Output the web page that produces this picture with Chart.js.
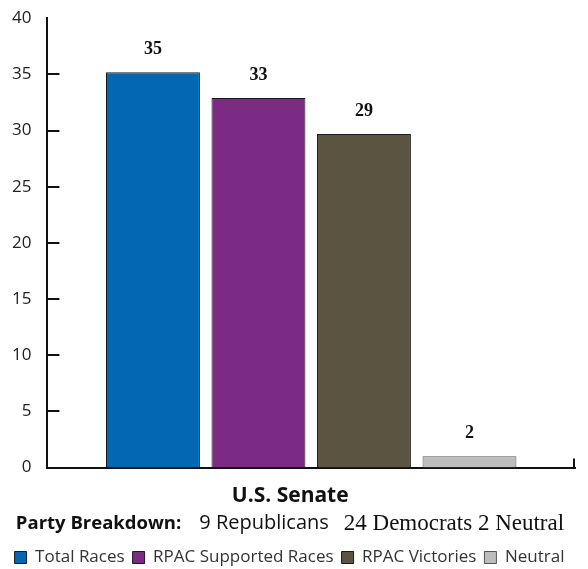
<!DOCTYPE html>
<html>
<head>
<meta charset="utf-8">
<script src="https://cdn.jsdelivr.net/npm/chart.js@4/dist/chart.umd.min.js"></script>
<style>
    html, body { margin: 0; padding: 0; background: #fff; }
    .wrap { width: 588px; height: 569px; }
</style>
</head>
<body>
<div class="wrap"><canvas id="senateChart" width="588" height="569"></canvas></div>
<script>
    const categories = ['U.S. Senate'];
    const seriesNames = ['Total Races', 'RPAC Supported Races', 'RPAC Victories', 'Neutral'];
    const seriesValues = [35.2, 32.9, 29.7, 1.0];
    const seriesLabels = ['35', '33', '29', '2'];
    const seriesColors = ['#0367B4', '#7B2B83', '#5A5441', '#BDBDBD'];
    const yTicks = [0, 5, 10, 15, 20, 25, 30, 35, 40];
    const breakdown = [
        { text: 'Party Breakdown:', font: 'bold 18.5px "Open Sans", sans-serif', gap: 18 },
        { text: '9 Republicans', font: '20px "Open Sans", sans-serif', gap: 15 },
        { text: '24 Democrats 2 Neutral', font: '23px "Liberation Serif", serif', gap: 0 }
    ];

    const sans = '"Open Sans", sans-serif';

    // value labels above bars, inward tick marks, breakdown line
    const extras = {
        id: 'extras',
        afterDatasetsDraw(chart) {
            const ctx = chart.ctx;
            ctx.save();
            ctx.font = 'bold 18px "Liberation Serif", serif';
            ctx.fillStyle = '#111';
            ctx.textAlign = 'center';
            ctx.textBaseline = 'middle';
            chart.data.datasets.forEach((ds, i) => {
                const bar = chart.getDatasetMeta(i).data[0];
                ctx.fillText(seriesLabels[i], bar.x, bar.y - 23);
            });
            ctx.restore();
        },
        afterDraw(chart) {
            const ctx = chart.ctx;
            const y = chart.scales.y;
            const x = chart.scales.x;
            ctx.save();
            ctx.strokeStyle = '#111';
            ctx.lineWidth = 2;
            yTicks.slice(0, -1).forEach(v => {
                const py = Math.round(y.getPixelForValue(v));
                ctx.beginPath();
                ctx.moveTo(x.left, py);
                ctx.lineTo(x.left + 12, py);
                ctx.stroke();
            });
            ctx.beginPath();
            ctx.moveTo(x.right - 1, y.bottom);
            ctx.lineTo(x.right - 1, y.bottom - 9);
            ctx.stroke();

            // mixed-font breakdown line drawn where the x title sits
            ctx.fillStyle = '#111';
            ctx.textBaseline = 'middle';
            ctx.textAlign = 'left';
            const midY = y.bottom + 56;
            let total = 0;
            breakdown.forEach(p => { ctx.font = p.font; total += ctx.measureText(p.text).width + p.gap; });
            let px = (chart.width - total) / 2 - 4;
            breakdown.forEach(p => {
                ctx.font = p.font;
                ctx.fillText(p.text, px, midY);
                px += ctx.measureText(p.text).width + p.gap;
            });
            ctx.restore();
        }
    };

    new Chart(document.getElementById('senateChart'), {
        type: 'bar',
        data: {
            labels: categories,
            datasets: seriesNames.map((name, i) => ({
                label: name,
                data: [seriesValues[i]],
                backgroundColor: seriesColors[i],
                borderColor: i === 3 ? '#555' : '#1b1b1b',
                borderWidth: 1,
                categoryPercentage: 0.8,
                barPercentage: 0.89
            }))
        },
        options: {
            responsive: false,
            animation: false,
            layout: { padding: { top: 6, right: 13, left: 4, bottom: -7 } },
            plugins: {
                tooltip: { enabled: false },
                legend: {
                    position: 'bottom',
                    labels: {
                        boxWidth: 12,
                        boxHeight: 12,
                        padding: 8,
                        color: '#333',
                        font: { family: sans, size: 17 }
                    }
                }
            },
            scales: {
                x: {
                    grid: { display: false },
                    border: { color: '#111', width: 2 },
                    ticks: { color: '#111', padding: 8, labelOffset: -21, font: { family: sans, size: 21, weight: 'bold' } },
                    title: { display: true, text: 'Party Breakdown:', color: 'rgba(0,0,0,0)', font: { size: 16 }, padding: { top: 0, bottom: 5 } }
                },
                y: {
                    min: 0,
                    max: 40,
                    grid: { display: false },
                    border: { color: '#111', width: 2 },
                    afterBuildTicks: axis => { axis.ticks = yTicks.map(v => ({ value: v })); },
                    ticks: { color: '#222', padding: 8, font: { family: sans, size: 17 } }
                }
            }
        },
        plugins: [extras]
    });
</script>
</body>
</html>
